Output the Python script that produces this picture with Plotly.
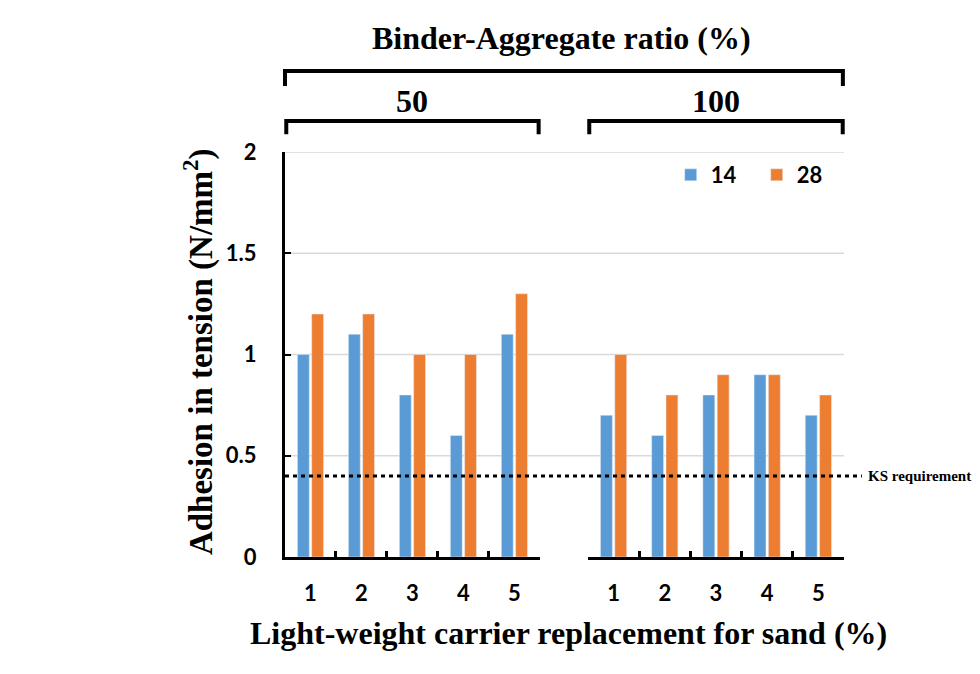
import plotly.graph_objects as go

categories = ["1", "2", "3", "4", "5"]
ba50_14 = [1.0, 1.1, 0.8, 0.6, 1.1]
ba50_28 = [1.2, 1.2, 1.0, 1.0, 1.3]
ba100_14 = [0.7, 0.6, 0.8, 0.9, 0.7]
ba100_28 = [1.0, 0.8, 0.9, 0.9, 0.8]
ytick_vals = [0, 0.5, 1, 1.5, 2]
ytick_text = ["0", "0.5", "1", "1.5", "2"]
ks_requirement = 0.4
group_labels = ["50", "100"]
series_names = ["14", "28"]

BLUE = "#5B9BD5"
ORANGE = "#ED7D31"
SANS = dict(family="Lato", size=22, color="black", weight="bold")
SERIF = "Liberation Serif"

fig = go.Figure()
fig.add_trace(go.Bar(x=categories, y=ba50_14, name=series_names[0], marker_color=BLUE,
                     legendgroup="a", xaxis="x", yaxis="y"))
fig.add_trace(go.Bar(x=categories, y=ba50_28, name=series_names[1], marker_color=ORANGE,
                     legendgroup="b", xaxis="x", yaxis="y"))
fig.add_trace(go.Bar(x=categories, y=ba100_14, name=series_names[0], marker_color=BLUE,
                     legendgroup="a", showlegend=False, xaxis="x2", yaxis="y"))
fig.add_trace(go.Bar(x=categories, y=ba100_28, name=series_names[1], marker_color=ORANGE,
                     legendgroup="b", showlegend=False, xaxis="x2", yaxis="y"))

xcommon = dict(type="category", showline=True, linewidth=3, linecolor="black",
               ticks="inside", tickson="boundaries", ticklen=6, tickwidth=3,
               tickcolor="black", showgrid=False, zeroline=False,
               tickfont=SANS, ticklabelstandoff=15, fixedrange=True)

fig.update_layout(
    width=972, height=666,
    paper_bgcolor="white", plot_bgcolor="white",
    margin=dict(l=277, r=136, t=144, b=117),
    barmode="group", bargap=0.44, bargroupgap=0.17,
    xaxis=dict(domain=[0, 0.456], anchor="y", **xcommon),
    xaxis2=dict(domain=[0.542, 1.0], anchor="y", **xcommon),
    yaxis=dict(range=[0, 2], anchor="x", tickvals=ytick_vals, ticktext=ytick_text,
               showline=True, linewidth=3, linecolor="black", ticks="inside",
               ticklen=6, tickwidth=2, tickcolor="black", showgrid=False,
               zeroline=False, tickfont=SANS, ticklabelstandoff=21, fixedrange=True),
    legend=dict(orientation="h", x=0.69, y=0.995, xanchor="left", yanchor="top",
                font=SANS, bgcolor="rgba(0,0,0,0)", entrywidth=41,
                entrywidthmode="pixels", traceorder="normal"),
    showlegend=True,
)

shapes = []
# gridlines across both panels
for v in ytick_vals[1:]:
    shapes.append(dict(type="line", xref="paper", yref="y", x0=0, x1=1.0, y0=v, y1=v,
                       line=dict(color="#D9D9D9", width=1.5), layer="below"))
# KS requirement line
shapes.append(dict(type="line", xref="paper", yref="y", x0=0, x1=1.032,
                   y0=ks_requirement, y1=ks_requirement,
                   line=dict(color="black", width=3, dash="4px,4px")))
# brackets
shapes.append(dict(type="path", xref="paper", yref="paper",
                   path="M 0,1.163 L 0,1.2 L 0.998,1.2 L 0.998,1.163",
                   line=dict(color="black", width=4)))
for ax in ["x domain", "x2 domain"]:
    shapes.append(dict(type="path", xref=ax, yref="paper",
                       path="M 0.005,1.044 L 0.005,1.0765 L 0.995,1.0765 L 0.995,1.044",
                       line=dict(color="black", width=4)))
fig.update_layout(shapes=shapes)

SERIF_FONT = dict(family=SERIF, size=32, color="black", weight="bold")
annotations = [
    dict(text="Binder-Aggregate ratio (%)", xref="paper", yref="paper", x=0.4955, y=1.281,
         showarrow=False, font=SERIF_FONT, xanchor="center", yanchor="middle"),
    dict(text=group_labels[0], xref="x domain", yref="paper", x=0.5, y=1.126,
         showarrow=False, font=SERIF_FONT, xanchor="center", yanchor="middle"),
    dict(text=group_labels[1], xref="x2 domain", yref="paper", x=0.5, y=1.126,
         showarrow=False, font=SERIF_FONT, xanchor="center", yanchor="middle"),
    dict(text="Light-weight carrier replacement for sand (%)", xref="paper", yref="paper",
         x=0.508, y=-0.1877, showarrow=False, font=SERIF_FONT,
         xanchor="center", yanchor="middle"),
    dict(text="Adhesion in tension (N/mm<sup>2</sup>)", xref="paper", yref="paper",
         x=-0.1556, y=0.506, showarrow=False, textangle=-90,
         font=dict(family=SERIF, size=33, color="black", weight="bold"),
         xanchor="center", yanchor="middle"),
    dict(text="KS requirement", xref="paper", yref="y", x=1.039, y=ks_requirement,
         showarrow=False, xanchor="left", yanchor="middle",
         font=dict(family=SERIF, size=15, color="black", weight="bold")),
]
fig.update_layout(annotations=annotations)

fig.write_html("out.html")
